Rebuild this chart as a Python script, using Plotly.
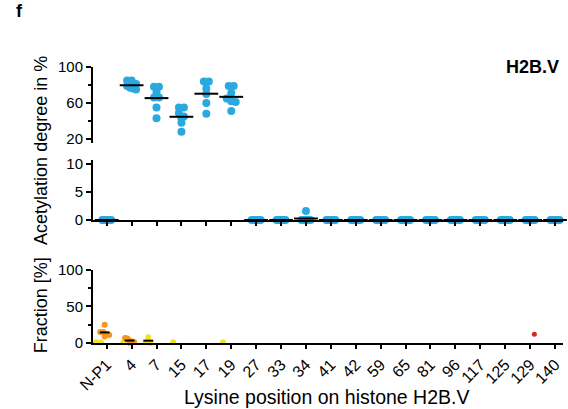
import numpy as np
import plotly.graph_objects as go

# ---------------- data ----------------
lysines = ["N-P1", "4", "7", "15", "17", "19", "27", "33", "34", "41", "42",
           "59", "65", "81", "96", "117", "125", "129", "140"]

# acetylation degree (%) – high range panel
acet_high = {
    "4":  [85, 85, 81, 79, 77, 76, 75],
    "7":  [78, 78, 72, 66, 66, 55, 43],
    "15": [55, 55, 49, 45, 43, 38, 28],
    "17": [84, 84, 76, 70, 60, 48],
    "19": [79, 79, 71, 65, 62, 61, 51],
}
# acetylation degree (%) – low range panel
acet_low = {k: [0, 0, 0, 0, 0, 0] for k in lysines if k not in acet_high}
acet_low["34"] = [0, 0, 0, 0, 0, 1.6]

# fraction (%) – three series
frac_yellow = {"N-P1": [1, 0.8], "4": [1], "7": [8, 1, 0.5], "15": [1], "19": [1]}
frac_orange = {"N-P1": [25, 15, 15, 12, 11, 9], "4": [7, 6, 3, 2, 1.5, 0.5]}
frac_red = {"129": [12]}

BLUE = "#2AA9E0"
YELLOW = "#F5E11E"
ORANGE = "#F7941D"
RED = "#E2231A"
FONT = "Liberation Sans, Arial, sans-serif"


def swarm(vals, ppu, dot=7.0, step=0.2, maxw=0.18):
    """horizontal offsets (category units) for points of one group"""
    vals = list(vals)
    order = sorted(range(len(vals)), key=lambda i: -vals[i])
    offs = [0.0] * len(vals)
    clusters, cur = [], []
    for i in order:
        if cur and (vals[cur[0]] - vals[i]) * ppu >= 0.6 * dot:
            clusters.append(cur)
            cur = []
        cur.append(i)
    if cur:
        clusters.append(cur)
    for c in clusters:
        n = len(c)
        if n > 1:
            w = min(step * (n - 1) / 2, maxw)
            for j, o in zip(c, np.linspace(-w, w, n)):
                offs[j] = float(o)
    return offs


fig = go.Figure()


def add_group(data, color, xa, ya, ppu, shift=0.0, mean_size=17, min_n=2, size=8):
    xs, ys, mx, my = [], [], [], []
    for cat, vals in data.items():
        idx = lysines.index(cat)
        for v, o in zip(vals, swarm(vals, ppu)):
            xs.append(idx + shift + o)
            ys.append(v)
        if len(vals) >= min_n:
            mx.append(idx + shift)
            my.append(float(np.mean(vals)))
    fig.add_trace(go.Scatter(x=xs, y=ys, mode="markers", xaxis=xa, yaxis=ya,
                             marker=dict(color=color, size=size, line=dict(width=0)),
                             cliponaxis=False, showlegend=False, hoverinfo="y"))
    if mx:
        fig.add_trace(go.Scatter(x=mx, y=my, mode="markers", xaxis=xa, yaxis=ya,
                                 marker=dict(symbol="line-ew", size=mean_size,
                                             line=dict(color="black", width=2)),
                                 cliponaxis=False, showlegend=False, hoverinfo="y"))


add_group(acet_high, BLUE, "x", "y", 0.9)
add_group(acet_low, BLUE, "x", "y2", 5.6)
add_group(frac_yellow, YELLOW, "x2", "y3", 0.73, shift=-0.33, mean_size=7, min_n=3, size=6)
add_group(frac_orange, ORANGE, "x2", "y3", 0.73, shift=-0.08, mean_size=7, min_n=3, size=6)
add_group(frac_red, RED, "x2", "y3", 0.73, shift=0.17, mean_size=7, min_n=3, size=5)

xr = [-0.55, 18.32]
tickfont = dict(family=FONT, size=15, color="black")
xtickfont = dict(family=FONT, size=16, color="black")
common_y = dict(showline=True, linecolor="black", linewidth=2, ticks="outside",
                ticklen=5, tickwidth=2, tickcolor="black", showgrid=False,
                zeroline=False, tickfont=tickfont, anchor="x")

fig.update_layout(
    width=568, height=409,
    margin=dict(l=93, r=5, t=60, b=66),
    paper_bgcolor="white", plot_bgcolor="white",
    font=dict(family=FONT, color="black"),
    xaxis=dict(domain=[0, 1], range=xr, anchor="y2", showline=True,
               linecolor="black", linewidth=2, ticks="outside", ticklen=4,
               tickwidth=2, tickcolor="black", tickvals=list(range(len(lysines))),
               showticklabels=False, showgrid=False, zeroline=False),
    xaxis2=dict(domain=[0, 1], range=xr, anchor="y3", showline=True,
                linecolor="black", linewidth=2, ticks="outside", ticklen=4,
                tickwidth=2, tickcolor="black", tickvals=list(range(len(lysines))),
                ticktext=lysines, tickangle=-45, tickfont=xtickfont,
                showgrid=False, zeroline=False),
    yaxis=dict(domain=[0.708, 0.9753], range=[16, 100], tickvals=[20, 60, 100],
               minor=dict(tickvals=[40, 80], ticks="outside", ticklen=3,
                          tickwidth=2, tickcolor="black"), **common_y),
    yaxis2=dict(domain=[0.4346, 0.6466], range=[0, 10.7], tickvals=[0, 5, 10],
                **common_y),
    yaxis3=dict(domain=[0, 0.258], range=[0, 100], tickvals=[0, 50, 100],
                minor=dict(tickvals=[25, 75], ticks="outside", ticklen=3,
                           tickwidth=2, tickcolor="black"),
                **{**common_y, "anchor": "x2"}),
    annotations=[
        dict(text="<b>f</b>", xref="paper", yref="paper", x=-0.168, y=1.172,
             xanchor="left", yanchor="middle", showarrow=False,
             font=dict(size=18, family=FONT)),
        dict(text="<b>H2B.V</b>", xref="paper", yref="paper", x=0.995, y=0.975,
             xanchor="right", yanchor="middle", showarrow=False,
             font=dict(size=18, family=FONT)),
        dict(text="Acetylation degree in %", xref="paper", yref="paper",
             x=-0.112, y=0.68, xanchor="center", yanchor="middle",
             textangle=-90, showarrow=False, font=dict(size=18, family=FONT)),
        dict(text="Fraction [%]", xref="paper", yref="paper",
             x=-0.112, y=0.135, xanchor="center", yanchor="middle",
             textangle=-90, showarrow=False, font=dict(size=18, family=FONT)),
        dict(text="Lysine position on histone H2B.V", xref="paper", yref="paper",
             x=0.497, y=-0.19, xanchor="center", yanchor="middle", showarrow=False,
             font=dict(size=19.5, family=FONT)),
    ],
)

fig.write_html("out.html", config={"displayModeBar": False},
               post_script="document.body.style.margin='0';")
